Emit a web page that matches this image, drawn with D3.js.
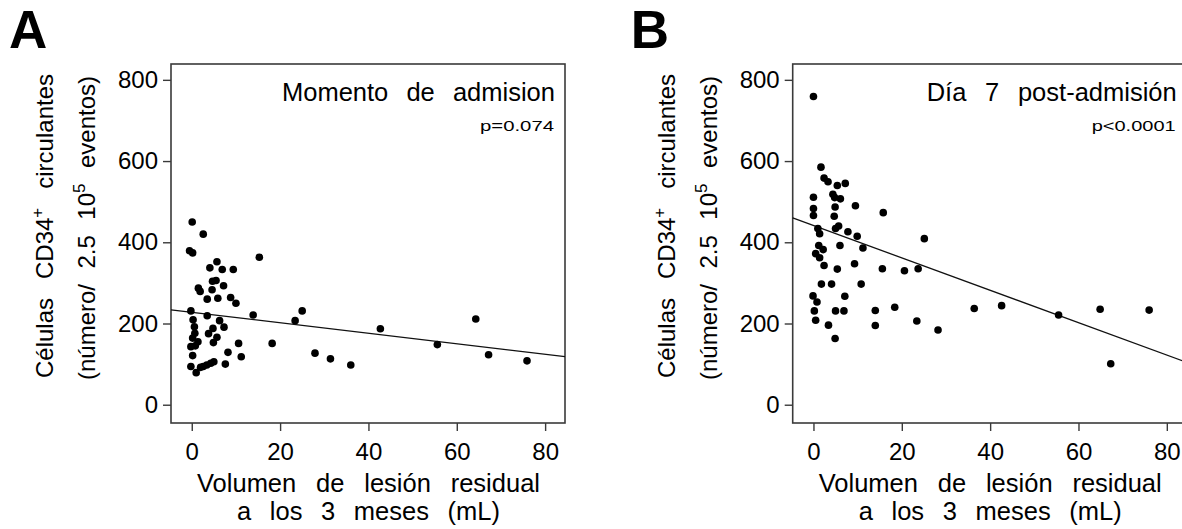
<!DOCTYPE html>
<html><head><meta charset="utf-8">
<script src="https://cdn.jsdelivr.net/npm/d3@7"></script>
<style>
body{margin:0;background:#fff;overflow:hidden}
text{font-family:"Liberation Sans",Arial,Helvetica,sans-serif;fill:#000}
</style>
</head><body>
<svg id="c" width="1182" height="529"></svg>
<script>
// ---- data ----
const xTicks = [0, 20, 40, 60, 80];
const yTicks = [0, 200, 400, 600, 800];

// Panel A: momento de admision
const admX = [0.1,2.6,-0.5,0.2,5.7,4.1,6.9,9.4,15.3,4.7,5.5,7.2,1.5,1.9,4.6,3.5,5.9,8.8,10.0,-0.2,3.5,13.9,0.3,6.3,0.6,7.3,4.8,0.7,3.8,5.7,0.2,1.4,4.9,10.6,18.2,-0.2,0.8,8.2,0.2,11.2,7.6,5.0,4.3,3.4,2.6,2.0,-0.2,1.0,23.4,25.0,27.9,31.4,36.0,42.7,55.6,64.3,67.2,75.9];
const admY = [450,420,379,374,352,337,333,333,363,304,306,293,287,279,283,260,262,264,250,231,219,221,209,207,192,191,188,176,175,166,164,155,153,151,151,143,145,129,121,118,100,106,102,98,94,92,94,79,207,231,127,113,98,187,148,211,123,108];
// Panel B: día 7 post-admisión
const d7X = [0,1.7,2.4,3.3,5.4,7.2,0,4.4,4.8,6.1,0,0,4.9,9.5,15.8,4.7,1.0,1.4,5.0,5.7,7.8,9.9,25.1,1.2,2.2,6.0,11.2,0.5,1.4,2.4,5.4,9.3,15.6,20.6,23.7,1.8,4.1,10.8,-0.1,0.8,7.1,0.2,5.0,6.9,14.0,18.4,0.5,3.4,14.0,23.4,28.2,4.9,36.4,42.6,55.5,64.9,76.0,67.3];
const d7Y = [759,585,558,549,540,545,511,518,510,507,483,466,487,490,473,464,434,421,434,440,426,415,409,392,382,392,386,372,362,343,334,347,335,330,335,297,297,297,268,253,267,231,231,231,232,240,208,196,195,206,184,163,237,244,221,235,233,101];

// regression lines [intercept, slope]
const fitA = [227.6, -1.293];
const fitB = [441.4, -3.99];

const panelLetters = ["A", "B"];
const panelTitles = ["Momento de admision", "Día 7 post-admisión"];
const pValues = ["p=0.074", "p<0.0001"];
const xTitle = ["Volumen de lesión residual", "a los 3 meses (mL)"];

// ---- drawing ----
const svg = d3.select("#c");
const AX = "#3a3a3a";

function justify(sel, w) {
  const n = sel.node();
  const len = n.getComputedTextLength();
  const spaces = (n.textContent.match(/ /g) || []).length;
  if (spaces) sel.style("word-spacing", ((w - len) / spaces) + "px");
}

function panel(o) {
  const g = svg.append("g");
  const x = d3.scaleLinear().domain([-4.7, 84.5]).range([o.left, o.left + 394]);
  const y = d3.scaleLinear().domain([-45, 839]).range([423, 64]);

  // letter
  g.append("text").attr("x", o.left - 162).attr("y", 48)
    .attr("font-size", 53).attr("font-weight", "bold").text(o.letter);

  // axes
  const xa = g.append("g").attr("transform", "translate(0,423)")
    .call(d3.axisBottom(x).tickValues(xTicks).tickSize(8).tickPadding(12));
  const ya = g.append("g").attr("transform", `translate(${o.left},0)`)
    .call(d3.axisLeft(y).tickValues(yTicks).tickSize(8).tickPadding(5));
  [xa, ya].forEach(a => {
    a.select(".domain").remove();
    a.selectAll(".tick line").attr("stroke", AX).attr("stroke-width", 1.4);
    a.selectAll(".tick text").attr("font-size", 24).attr("fill", "#000")
      .style("font-family", '"Liberation Sans",Arial,sans-serif');
  });

  // box
  g.append("rect").attr("x", x.range()[0]).attr("y", y.range()[1])
    .attr("width", x.range()[1] - x.range()[0]).attr("height", y.range()[0] - y.range()[1])
    .attr("fill", "none").attr("stroke", AX).attr("stroke-width", 1.6);

  // regression line
  const d = x.domain();
  g.append("line")
    .attr("x1", x(d[0])).attr("y1", y(o.fit[0] + o.fit[1] * d[0]))
    .attr("x2", x(d[1])).attr("y2", y(o.fit[0] + o.fit[1] * d[1]))
    .attr("stroke", "#111").attr("stroke-width", 1.3);

  // points
  g.append("g").selectAll("circle").data(o.xs.map((v, i) => [v, o.ys[i]]))
    .join("circle").attr("cx", p => x(p[0])).attr("cy", p => y(p[1]))
    .attr("r", 3.8).attr("fill", "#000");

  // title & p
  const t = g.append("text").attr("x", x.range()[0] + 384).attr("y", 101)
    .attr("text-anchor", "end").attr("font-size", 25.5).text(o.title);
  justify(t, o.titleW);
  g.append("text").attr("x", x.range()[0] + 383).attr("y", 131)
    .attr("text-anchor", "end").attr("font-size", 15)
    .attr("textLength", o.pW).attr("lengthAdjust", "spacingAndGlyphs").text(o.p);

  // x axis title
  const cx = o.left + 197.5;
  const x1 = g.append("text").attr("x", cx).attr("y", 492).attr("text-anchor", "middle")
    .attr("font-size", 25.5).text(xTitle[0]);
  justify(x1, 343);
  const x2 = g.append("text").attr("x", cx).attr("y", 520).attr("text-anchor", "middle")
    .attr("font-size", 25.5).text(xTitle[1]);
  justify(x2, 263);

  // y axis title
  const l1 = g.append("text").attr("transform", `translate(${o.left - 118},226) rotate(-90)`)
    .attr("text-anchor", "middle").attr("font-size", 24);
  l1.append("tspan").text("Células CD34");
  l1.append("tspan").attr("font-size", 17).attr("dy", -10).text("+");
  l1.append("tspan").attr("dy", 10).text(" circulantes");
  justify(l1, 304);
  const l2 = g.append("text").attr("transform", `translate(${o.left - 76},228) rotate(-90)`)
    .attr("text-anchor", "middle").attr("font-size", 24);
  l2.append("tspan").text("(número/ 2.5 10");
  l2.append("tspan").attr("font-size", 17).attr("dy", -10).text("5");
  l2.append("tspan").attr("dy", 10).text(" eventos)");
  justify(l2, 304);
}

panel({left: 171, letter: panelLetters[0], xs: admX, ys: admY, fit: fitA,
  title: panelTitles[0], titleW: 273, p: pValues[0], pW: 74});
panel({left: 792.7, letter: panelLetters[1], xs: d7X, ys: d7Y, fit: fitB,
  title: panelTitles[1], titleW: 250, p: pValues[1], pW: 84});
</script>
</body></html>
